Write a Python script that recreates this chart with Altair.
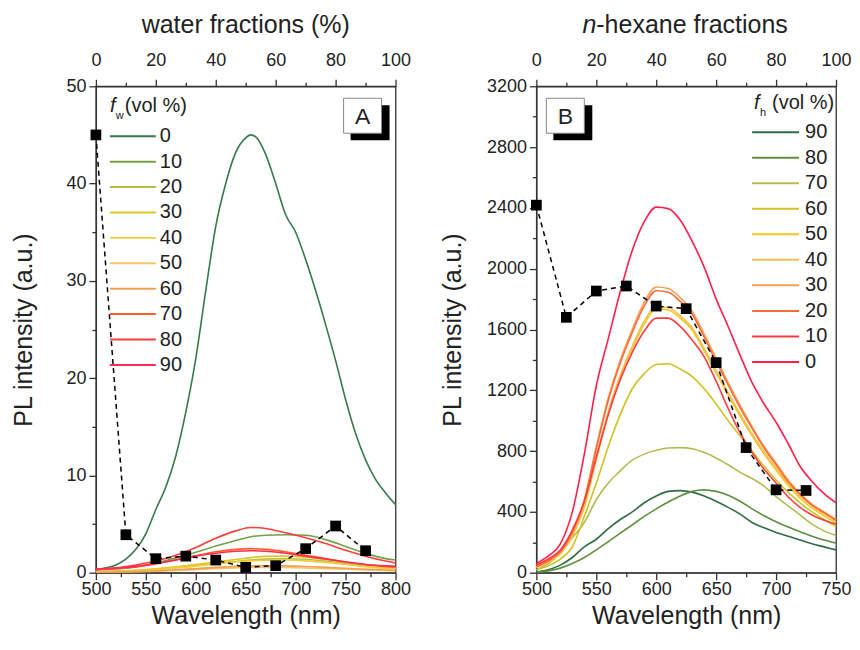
import altair as alt
import pandas as pd

FONT = "Liberation Sans"
INK = "#222222"

# ---------------- Panel A : water fractions ----------------
fw_levels = ["0", "10", "20", "30", "40", "50", "60", "70", "80", "90"]
fw_colors = ["#357a4a", "#74a046", "#b5bd45", "#dcc62a", "#f2cc3a",
             "#f5c46a", "#f0a050", "#ff5a2a", "#ff3c3c", "#ff2a55"]

wl_a_fine = [500, 510, 520, 530, 540, 550, 560, 570, 580, 590, 600, 610, 620, 630, 640, 650,
             655, 660, 670, 680, 690, 700, 710, 720, 730, 740, 750, 760, 770, 780, 790, 800]
pl_a_0 = [0.3, 0.5, 0.8, 1.4, 2.4, 4.0, 6.5, 8.8, 12.0, 16.5, 22.0, 29.0, 35.6, 40.0, 43.2, 44.7,
          45.0, 44.8, 43.0, 40.0, 36.8, 35.0, 32.2, 29.0, 25.5, 21.8, 17.8, 14.3, 11.6, 9.6, 8.2, 7.0]

wl_a = [500, 520, 540, 560, 580, 600, 620, 640, 655, 670, 690, 710, 730, 750, 770, 790, 800]
pl_a_10 = [0.3, 0.4, 0.6, 1.0, 1.5, 2.1, 2.75, 3.3, 3.7, 3.85, 3.9, 3.85, 3.4, 2.7, 2.0, 1.45, 1.3]
pl_a_20 = [0.1, 0.15, 0.22, 0.35, 0.52, 0.72, 0.95, 1.15, 1.3, 1.4, 1.44, 1.38, 1.2, 0.95, 0.7, 0.5, 0.45]
pl_a_30 = [0.1, 0.15, 0.25, 0.4, 0.6, 0.85, 1.1, 1.35, 1.55, 1.68, 1.7, 1.6, 1.35, 1.05, 0.75, 0.55, 0.5]
pl_a_40 = [0.1, 0.12, 0.2, 0.32, 0.48, 0.68, 0.9, 1.1, 1.22, 1.28, 1.3, 1.22, 1.05, 0.85, 0.62, 0.45, 0.4]
pl_a_50 = [0.05, 0.07, 0.1, 0.15, 0.22, 0.32, 0.42, 0.5, 0.54, 0.55, 0.53, 0.48, 0.42, 0.35, 0.28, 0.22, 0.2]
pl_a_60 = [0.05, 0.08, 0.12, 0.2, 0.3, 0.42, 0.55, 0.65, 0.7, 0.72, 0.7, 0.64, 0.55, 0.45, 0.35, 0.28, 0.25]
pl_a_70 = [0.3, 0.4, 0.6, 0.9, 1.3, 1.75, 2.15, 2.4, 2.47, 2.4, 2.15, 1.8, 1.45, 1.1, 0.85, 0.65, 0.6]
pl_a_80 = [0.38, 0.5, 0.8, 1.2, 1.8, 2.6, 3.55, 4.3, 4.65, 4.55, 4.1, 3.6, 3.0, 2.3, 1.7, 1.2, 1.0]
pl_a_90 = [0.35, 0.45, 0.65, 0.95, 1.3, 1.7, 2.0, 2.2, 2.26, 2.2, 2.0, 1.7, 1.4, 1.1, 0.85, 0.7, 0.65]

water_frac = [0, 10, 20, 30, 40, 50, 60, 70, 80, 90]
water_peak = [45.0, 3.9, 1.44, 1.7, 1.3, 0.55, 0.72, 2.47, 4.8, 2.26]

# ---------------- Panel B : n-hexane fractions ----------------
fh_levels = ["90", "80", "70", "60", "50", "40", "30", "20", "10", "0"]
fh_colors = ["#2f6b45", "#5e8f3e", "#b3bb50", "#cfc222", "#f0c820",
             "#f5bf50", "#f6a155", "#ff6a3a", "#ff3a40", "#ff1f48"]

wl_b = [500, 510, 520, 530, 540, 550, 560, 570, 580, 590, 600, 610, 620,
        630, 640, 650, 660, 670, 680, 690, 700, 710, 720, 730, 740, 750]
pl_b_0 = [60, 110, 190, 400, 780, 1230, 1540, 1850, 2120, 2310, 2405, 2395, 2320,
          2180, 2010, 1800, 1620, 1430, 1250, 1110, 990, 850, 700, 600, 520, 460]
pl_b_10 = [50, 90, 150, 280, 470, 760, 1040, 1270, 1450, 1590, 1675, 1675, 1620,
           1530, 1420, 1260, 1080, 920, 790, 680, 590, 500, 430, 380, 345, 320]
pl_b_20 = [40, 78, 138, 265, 470, 815, 1135, 1380, 1580, 1755, 1855, 1845, 1785,
           1700, 1550, 1390, 1235, 1085, 950, 820, 710, 600, 515, 445, 395, 345]
pl_b_30 = [40, 80, 140, 270, 480, 830, 1150, 1400, 1600, 1780, 1880, 1870, 1810,
           1720, 1570, 1410, 1250, 1100, 960, 830, 720, 610, 520, 450, 400, 350]
pl_b_40 = [35, 72, 128, 245, 440, 760, 1060, 1300, 1490, 1655, 1750, 1745, 1690,
           1610, 1475, 1330, 1185, 1045, 915, 795, 690, 590, 505, 440, 390, 345]
pl_b_50 = [35, 70, 125, 240, 430, 745, 1045, 1285, 1475, 1635, 1735, 1728, 1675,
           1595, 1460, 1315, 1170, 1030, 900, 780, 675, 575, 490, 425, 375, 330]
pl_b_60 = [20, 45, 90, 170, 370, 590, 830, 1040, 1210, 1310, 1370, 1375, 1340,
           1290, 1210, 1110, 1000, 900, 800, 700, 610, 530, 460, 400, 350, 305]
pl_b_70 = [20, 60, 130, 230, 330, 480, 590, 670, 740, 780, 805, 820, 823,
           815, 790, 755, 710, 660, 620, 570, 500, 440, 380, 320, 275, 245]
pl_b_80 = [5, 12, 30, 60, 100, 150, 205, 260, 315, 370, 420, 465, 505,
           535, 545, 535, 510, 470, 420, 375, 335, 300, 270, 240, 215, 195]
pl_b_90 = [5, 20, 50, 100, 170, 220, 290, 350, 400, 460, 505, 535, 540,
           530, 505, 470, 430, 385, 330, 295, 265, 240, 215, 190, 170, 150]

hexane_frac = [0, 10, 20, 30, 40, 50, 60, 70, 80, 90]
hexane_peak = [2418, 1680, 1853, 1886, 1754, 1737, 1382, 823, 545, 541]


def long_df(series):
    rows = []
    for lvl, wl, pl in series:
        for w, v in zip(wl, pl):
            rows.append({"lvl": lvl, "wl": w, "pl": v})
    return pd.DataFrame(rows)


df_a = long_df([
    ("0", wl_a_fine, pl_a_0), ("10", wl_a, pl_a_10), ("20", wl_a, pl_a_20),
    ("30", wl_a, pl_a_30), ("40", wl_a, pl_a_40), ("50", wl_a, pl_a_50),
    ("60", wl_a, pl_a_60), ("70", wl_a, pl_a_70), ("80", wl_a, pl_a_80),
    ("90", wl_a, pl_a_90)])
df_b = long_df([
    ("90", wl_b, pl_b_90), ("80", wl_b, pl_b_80), ("70", wl_b, pl_b_70),
    ("60", wl_b, pl_b_60), ("50", wl_b, pl_b_50), ("40", wl_b, pl_b_40),
    ("30", wl_b, pl_b_30), ("20", wl_b, pl_b_20), ("10", wl_b, pl_b_10),
    ("0", wl_b, pl_b_0)])

ONE = pd.DataFrame({"k": [0]})


def make_axis(values, major, orient, title=None, **kw):
    return alt.Axis(
        values=values, orient=orient, title=title, format="d",
        labelFlush=False, labelOverlap=False,
        labelExpr=f"datum.value % {major} === 0 ? datum.label : ''",
        tickSize={"condition": {"test": f"datum.value % {major} === 0", "value": 7}, "value": 4},
        **kw)


def txt(s, x, y, size, align="left", **kw):
    return alt.Chart(ONE).mark_text(
        text=s, fontSize=size, align=align, baseline="alphabetic",
        font=FONT, color=INK, **kw).encode(x=alt.value(x), y=alt.value(y))


def panel(df, field, levels, colors, xdom, xstep, xmajor, ydom, ystep, ymajor,
          frac, peak, leg_range, leg_x0, leg_x1, leg_lab_x,
          leg_title, top_title, box_x, letter, ytitle_pad, width):
    df = df.rename(columns={"lvl": field})
    color = alt.Color(f"{field}:N", scale=alt.Scale(domain=levels, range=colors), legend=None)
    xvals = list(range(xdom[0], xdom[1] + 1, xstep))
    yvals = list(range(ydom[0], ydom[1] + 1, ystep))

    spectra = alt.Chart(df).mark_line(strokeWidth=1.6, interpolate="monotone").encode(
        x=alt.X("wl:Q", scale=alt.Scale(domain=xdom, nice=False, zero=False),
                axis=make_axis(xvals, xmajor, "bottom", "Wavelength (nm)",
                               titlePadding=5, labelPadding=1)),
        y=alt.Y("pl:Q", scale=alt.Scale(domain=ydom, nice=False),
                axis=make_axis(yvals, ymajor, "left", "PL intensity (a.u.)",
                               titlePadding=ytitle_pad, labelPadding=3)),
        color=color,
        detail=f"{field}:N",
    )

    sq_df = pd.DataFrame({"f": frac, "v": peak})
    trend = alt.Chart(sq_df).mark_line(
        color="black", strokeDash=[5, 4], strokeWidth=1.5,
        point=alt.OverlayMarkDef(shape="square", size=115, filled=True, color="black", opacity=1),
    ).encode(
        x=alt.X("f:Q", scale=alt.Scale(domain=[0, 100], nice=False),
                axis=make_axis(list(range(0, 101, 10)), 20, "top", None, labelPadding=10)),
        y=alt.Y("v:Q", scale=alt.Scale(domain=ydom, nice=False), axis=None),
    )

    leg_df = pd.DataFrame({field: levels})
    yleg = alt.Y(f"{field}:N", scale=alt.Scale(type="point", domain=levels, range=leg_range, padding=0), axis=None)
    leg_lines = alt.Chart(leg_df).mark_rule(strokeWidth=2).encode(
        y=yleg, x=alt.value(leg_x0), x2=alt.value(leg_x1), color=color)
    leg_text = alt.Chart(leg_df).mark_text(
        align="left", baseline="middle", fontSize=20, color=INK, font=FONT).encode(
        y=yleg, x=alt.value(leg_lab_x), text=f"{field}:N")

    shadow = alt.Chart(ONE).mark_rect(color="black").encode(
        x=alt.value(box_x + 7), x2=alt.value(box_x + 46), y=alt.value(19), y2=alt.value(54))
    face = alt.Chart(ONE).mark_rect(fill="white", stroke="#888888", strokeWidth=1).encode(
        x=alt.value(box_x), x2=alt.value(box_x + 38), y=alt.value(12), y2=alt.value(47))
    lab = txt(letter, box_x + 19, 38, 23, align="center")

    layers = [spectra, trend, leg_lines, leg_text] + leg_title + top_title + [shadow, face, lab]
    return alt.layer(*layers).resolve_scale(x="independent", y="independent").properties(
        width=width, height=487)


title_a = [txt("f", 14, 26, 20, fontStyle="italic"),
           txt("w", 20, 33, 11),
           txt("(vol %)", 29, 26, 20)]
top_a = [txt("water fractions (%)", 150, -53, 25, align="center")]

title_b = [txt("f", 218, 23, 20, fontStyle="italic"),
           txt("h", 224, 30, 11),
           txt("(vol %)", 236, 23, 20)]
top_b = [txt("n", 60, -53, 25, align="right", fontStyle="italic"),
         txt("-hexane fractions", 60, -53, 25)]

chart_a = panel(df_a, "fw", fw_levels, fw_colors, [500, 800], 25, 50, [0, 50], 5, 10,
                water_frac, water_peak, [50, 279], 14, 60, 64,
                title_a, top_a, 248, "A", 29, 300)
chart_b = panel(df_b, "fh", fh_levels, fh_colors, [500, 750], 25, 50, [0, 3200], 200, 400,
                hexane_frac, hexane_peak, [46, 276], 216, 263, 269,
                title_b, top_b, 10, "B", 21, 300)

chart = alt.hconcat(chart_a, chart_b, spacing=141, bounds="flush").resolve_scale(
    color="independent"
).properties(
    padding={"left": 3, "top": 4, "right": 0, "bottom": 0},
    background="white",
).configure(font=FONT).configure_view(
    stroke="#333333", strokeWidth=1.3
).configure_axis(
    labelFont=FONT, titleFont=FONT, labelFontSize=18, titleFontSize=25,
    titleFontWeight="normal", labelColor=INK, titleColor=INK,
    domainColor="#333333", tickColor="#333333", domainWidth=1.3, tickWidth=1.3,
    grid=False,
)

chart.save("out.html", embed_options={"renderer": "svg", "actions": False})
